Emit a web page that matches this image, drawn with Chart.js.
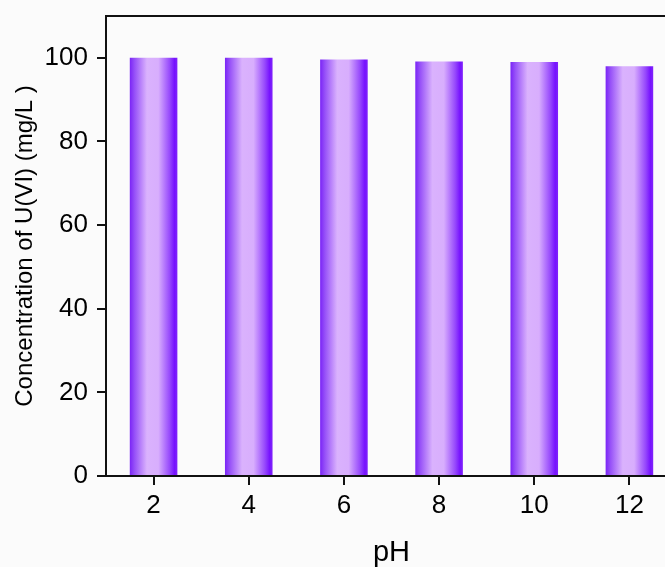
<!DOCTYPE html>
<html>
<head>
<meta charset="utf-8">
<script src="https://cdn.jsdelivr.net/npm/chart.js@4"></script>
<style>
  html, body { margin: 0; padding: 0; background: #fbfbfb; overflow: hidden; }
  #wrap { width: 665px; height: 567px; overflow: hidden; }
  canvas { display: block; }
</style>
</head>
<body>
<div id="wrap"><canvas id="c" width="680" height="567"></canvas></div>
<script>
const categories = ['2', '4', '6', '8', '10', '12'];
const concentration = [100, 100, 99.6, 99.1, 99.0, 98.0];
const yTicks = [0, 20, 40, 60, 80, 100];

const FONT = 'Arial, "Liberation Sans", sans-serif';

function barGradient(ctx) {
  const chart = ctx.chart;
  if (!chart.chartArea || ctx.type !== 'data') return 'rgb(160,100,250)';
  const xs = chart.scales.x;
  const cx = xs.getPixelForValue(ctx.dataIndex);
  const w = (xs.width / categories.length) * 0.5;
  const g = chart.ctx.createLinearGradient(cx - w / 2, 0, cx + w / 2, 0);
  g.addColorStop(0.0, 'rgb(122,36,246)');
  g.addColorStop(0.1, 'rgb(150,80,248)');
  g.addColorStop(0.36, 'rgb(218,178,253)');
  g.addColorStop(0.6, 'rgb(216,174,253)');
  g.addColorStop(0.84, 'rgb(150,72,252)');
  g.addColorStop(0.94, 'rgb(118,18,255)');
  g.addColorStop(1.0, 'rgb(128,36,250)');
  return g;
}

const frame = {
  id: 'frame',
  afterDatasetsDraw(chart) {
    const { ctx, chartArea: a } = chart;
    ctx.save();
    ctx.strokeStyle = '#111';
    ctx.lineWidth = 2;
    ctx.beginPath();
    ctx.moveTo(a.left, a.top);
    ctx.lineTo(a.right, a.top);
    ctx.lineTo(a.right, a.bottom);
    ctx.stroke();
    ctx.restore();
  }
};

new Chart(document.getElementById('c'), {
  type: 'bar',
  data: {
    labels: categories,
    datasets: [{
      data: concentration,
      backgroundColor: barGradient,
      borderWidth: 0,
      barPercentage: 0.5,
      categoryPercentage: 1.0
    }]
  },
  options: {
    responsive: false,
    animation: false,
    events: [],
    layout: { padding: { left: 0, right: 3, top: 16, bottom: 0 } },
    plugins: { legend: { display: false }, tooltip: { enabled: false } },
    scales: {
      x: {
        grid: { offset: false, drawOnChartArea: false, drawTicks: true, tickLength: 9, color: '#111', lineWidth: 2 },
        border: { display: true, color: '#111', width: 2 },
        ticks: { color: '#000', font: { family: FONT, size: 26 }, padding: 5, maxRotation: 0 },
        title: { display: true, text: 'pH', color: '#000', font: { family: FONT, size: 29, lineHeight: 1 }, padding: { top: 0, bottom: 0 } },
        afterFit(scale) { scale.height = 91; scale.paddingLeft = 0; scale.paddingRight = 0; }
      },
      y: {
        min: 0,
        max: 110,
        grid: { drawOnChartArea: false, drawTicks: true, tickLength: 9, color: '#111', lineWidth: 2 },
        border: { display: true, color: '#111', width: 2 },
        ticks: { stepSize: 20, includeBounds: false, color: '#000', font: { family: FONT, size: 26 }, padding: 9,
          callback: (v) => yTicks.includes(v) ? String(v) : '' },
        title: { display: true, text: 'Concentration of U(VI) (mg/L )', color: '#000', font: { family: FONT, size: 24, lineHeight: 1 }, padding: { top: 13, bottom: 0 } },
        afterFit(scale) { scale.width = 106; scale.paddingTop = 0; scale.paddingBottom = 0; }
      }
    }
  },
  plugins: [frame]
});
</script>
</body>
</html>
